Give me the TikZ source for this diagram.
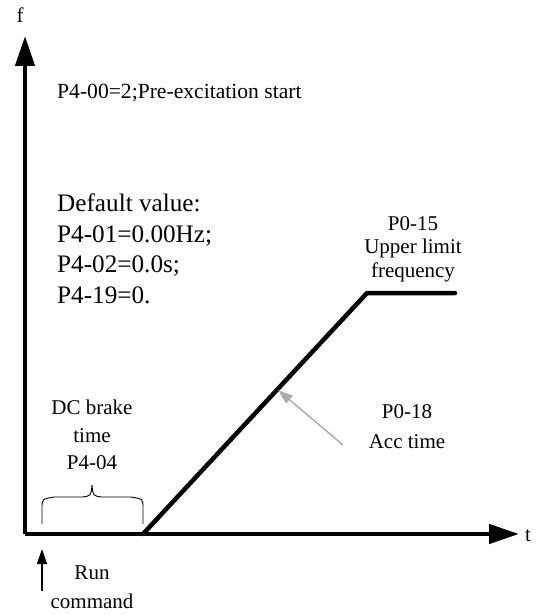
\documentclass[tikz,border=0pt]{standalone}
\usepackage{fontspec}
\setmainfont{Liberation Serif}
\usetikzlibrary{arrows.meta}
\begin{document}
\begin{tikzpicture}[x=1pt, y=-1pt,
    axis/.style={line width=4.5pt, -{Triangle[width=19pt,length=30pt]}},
    curve/.style={line width=4.5pt, line cap=round},
    pointer/.style={line width=1.4pt, -{Triangle[width=10pt,length=15pt]}},
    lbl/.style={inner sep=0pt, align=center, font=\fontsize{21}{28}\selectfont}]
  \useasboundingbox (0,0) rectangle (539,615);

  % axes
  \coordinate (origin) at (25,534);
  \coordinate (ftop) at (25,36);
  \coordinate (tend) at (519,534);
  \draw[axis] (origin) -- (ftop);
  \draw[axis] (origin) -- (tend);
  \node[lbl] (flbl) at (20,15) {f};
  \node[lbl] (tlbl) at (528,536) {t};

  % speed curve
  \coordinate (rampstart) at (143,534);
  \coordinate (rampend) at (367,293);
  \coordinate (plateauend) at (455,293);
  \draw[curve] (rampstart) -- (rampend) -- (plateauend);

  % texts
  \node[lbl, anchor=west, font=\fontsize{21.6}{28}\selectfont] (pre) at (57,93)
    {P4-00=2;Pre-excitation start};
  \node[lbl, align=left, anchor=west, font=\fontsize{25.2}{30.5}\selectfont]
    (defaults) at (57,249) {Default value:\\P4-01=0.00Hz;\\P4-02=0.0s;\\P4-19=0.};
  \node[lbl, font=\fontsize{21}{23.5}\selectfont] (upper) at (413,249)
    {P0-15\\Upper limit\\frequency};
  \node[lbl, font=\fontsize{21}{30}\selectfont] (acc) at (407,427) {P0-18\\Acc time};
  \node[lbl, font=\fontsize{21}{27.5}\selectfont] (dcbrake) at (92,435) {DC brake\\time\\P4-04};
  \node[lbl, font=\fontsize{21}{29}\selectfont] (run) at (92,587) {Run\\command};

  % acc time pointer
  \coordinate (acctail) at (343,445);
  \coordinate (accpt) at (278,390);
  \draw[pointer, draw=black!33, fill=black!33] (acctail) -- (accpt);

  % run command arrow
  \coordinate (runtail) at (42,591);
  \coordinate (runtip) at (42,549);
  \draw[pointer] (runtail) -- (runtip);

  % brace over DC brake time
  \draw[line width=0.9pt] (42,524) -- (42,508) .. controls (42,499) .. (54,497)
    -- (82,497) .. controls (91,496) .. (92,485) .. controls (93,496) .. (102,497)
    -- (131,497) .. controls (143,499) .. (143,508) -- (143,524);
\end{tikzpicture}
\end{document}
